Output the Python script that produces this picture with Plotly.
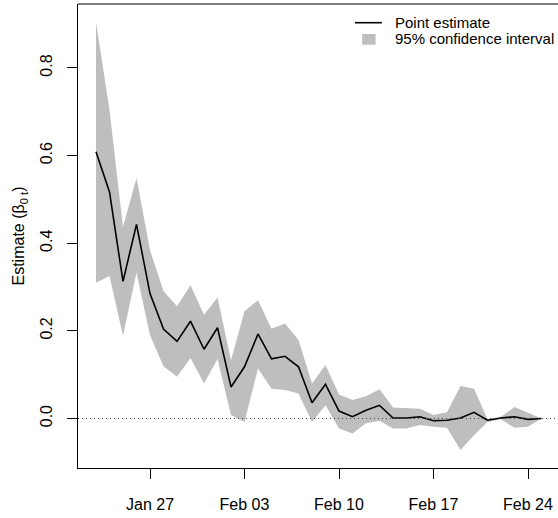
import plotly.graph_objects as go
import pandas as pd

dates = pd.date_range("2020-01-23", "2020-02-25", freq="D").strftime("%Y-%m-%d").tolist()

estimate = [0.609, 0.517, 0.313, 0.443, 0.285, 0.204, 0.176, 0.222, 0.158, 0.207,
            0.072, 0.118, 0.193, 0.136, 0.142, 0.118, 0.036, 0.078, 0.017, 0.004,
            0.019, 0.030, 0.001, 0.001, 0.004, -0.005, -0.004, 0.001, 0.014, -0.004,
            0.001, 0.004, -0.002, 0.000]

upper = [0.905, 0.704, 0.437, 0.549, 0.384, 0.291, 0.256, 0.304, 0.237, 0.276,
         0.133, 0.245, 0.270, 0.205, 0.217, 0.179, 0.080, 0.122, 0.055, 0.042,
         0.051, 0.067, 0.025, 0.024, 0.022, 0.008, 0.014, 0.074, 0.068, -0.002,
         0.004, 0.026, 0.013, 0.000]

lower = [0.310, 0.325, 0.189, 0.333, 0.190, 0.119, 0.095, 0.138, 0.080, 0.136,
         0.008, -0.008, 0.114, 0.068, 0.065, 0.057, -0.008, 0.030, -0.023, -0.034,
         -0.011, -0.005, -0.023, -0.023, -0.015, -0.019, -0.021, -0.072, -0.038, -0.008,
         -0.002, -0.021, -0.019, 0.000]

tick_dates = ["2020-01-27", "2020-02-03", "2020-02-10", "2020-02-17", "2020-02-24"]
tick_labels = ["Jan 27", "Feb 03", "Feb 10", "Feb 17", "Feb 24"]
y_ticks = [0.0, 0.2, 0.4, 0.6, 0.8]
legend_labels = ["Point estimate", "95% confidence interval"]

BAND = "#BEBEBE"
FONT = "Liberation Sans, Arial, Helvetica, sans-serif"

fig = go.Figure()

# confidence band
fig.add_trace(go.Scatter(x=dates, y=lower, mode="lines", line=dict(width=0),
                         showlegend=False, hoverinfo="skip"))
fig.add_trace(go.Scatter(x=dates, y=upper, mode="lines", line=dict(width=0),
                         fill="tonexty", fillcolor=BAND, showlegend=False,
                         hoverinfo="skip", name=legend_labels[1]))

# point estimate
fig.add_trace(go.Scatter(x=dates, y=estimate, mode="lines",
                         line=dict(color="black", width=1.6),
                         name=legend_labels[0], showlegend=False))

# zero reference line
fig.add_shape(type="line", xref="paper", x0=0, x1=1, yref="y", y0=0, y1=0,
              line=dict(color="#444444", width=1, dash="1px,3px"), layer="above")
# top border of the plot box
fig.add_shape(type="line", xref="paper", x0=0, x1=1, yref="paper", y0=1, y1=1,
              line=dict(color="black", width=1), layer="above")

# legend (drawn manually to mimic compact R legend)
fig.add_shape(type="line", xref="paper", yref="paper",
              x0=0.577, x1=0.633, y0=0.9597, y1=0.9597,
              line=dict(color="black", width=1.6))
fig.add_shape(type="rect", xref="paper", yref="paper",
              x0=0.592, x1=0.620, y0=0.9123, y1=0.9353,
              line=dict(width=0), fillcolor=BAND)
for lab, yy in zip(legend_labels, [0.9597, 0.925]):
    fig.add_annotation(text=lab, xref="paper", yref="paper", x=0.656, y=yy,
                       xanchor="left", yanchor="middle", showarrow=False,
                       font=dict(size=15, family=FONT, color="black"))

fig.update_layout(
    width=558, height=518,
    margin=dict(l=78, r=0, t=4, b=50),
    plot_bgcolor="white", paper_bgcolor="white",
    font=dict(family=FONT, size=16, color="black"),
    showlegend=False,
    xaxis=dict(type="date",
               range=["2020-01-21 16:00", "2020-02-26 05:20"],
               tickvals=tick_dates, ticktext=tick_labels,
               showline=True, linecolor="black", linewidth=1, mirror=False,
               ticks="outside", ticklen=10, tickcolor="black", tickwidth=1,
               showgrid=False, zeroline=False, ticklabelstandoff=12,
               tickfont=dict(size=16)),
    yaxis=dict(range=[-0.113, 0.946],
               tickvals=y_ticks, ticktext=["0.0", "0.2", "0.4", "0.6", "0.8"],
               tickangle=-90,
               showline=True, linecolor="black", linewidth=1, mirror=False,
               ticks="outside", ticklen=10, tickcolor="black", tickwidth=1,
               showgrid=False, zeroline=False, ticklabelstandoff=9,
               tickfont=dict(size=16),
               title=dict(text="Estimate (β<sub>0 t</sub>)", font=dict(size=16),
                          standoff=8)),
)

fig.write_html("out.html")
